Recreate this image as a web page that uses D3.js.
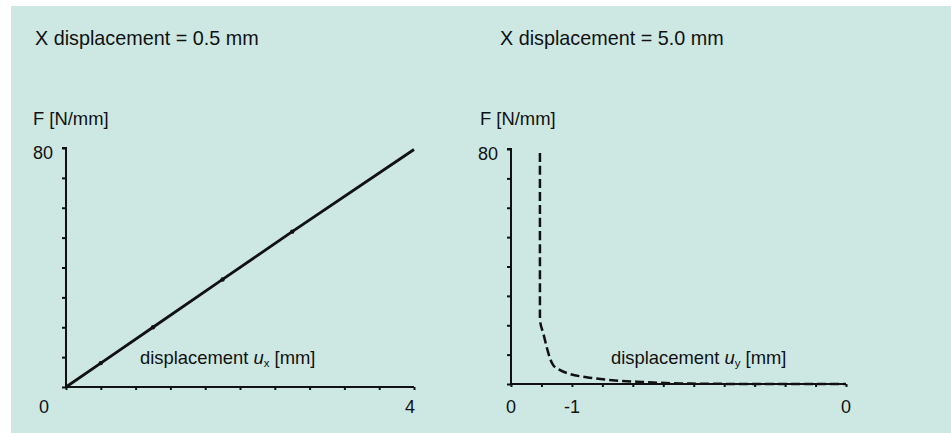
<!DOCTYPE html>
<html><head><meta charset="utf-8">
<script src="https://cdn.jsdelivr.net/npm/d3@7"></script>
<style>
html,body{margin:0;padding:0;background:#fff;}
svg{display:block;font-family:"Liberation Sans",Arial,Helvetica,sans-serif;}
</style></head>
<body>
<svg id="c" width="951" height="433"></svg>
<script>
// ---- data ----
const titles = ["X displacement = 0.5 mm", "X displacement = 5.0 mm"];
const yLabel = "F [N/mm]";
const yTicks = [0,10,20,30,40,50,60,70,80];
const leftXTicks = [0,0.4,0.8,1.2,1.6,2.0,2.4,2.8,3.2,3.6,4.0];
const leftXLabels = [[0,"0"],[4,"4"]];
const rightXTicks = [0,0.5,1,1.5,2,2.5,3,3.5,4,4.5,5,5.5];
const rightXLabels = [[0,"0"],[1,"-1"],[5.5,"0"]];
const leftU = [0, 0.4, 1.0, 1.8, 2.6, 4.0];
const leftF = [0, 8, 20, 36, 52, 79.5];
const rightU = [0.475,0.475,0.53,0.585,0.64,0.69,0.80,0.97,1.24,1.51,1.79,2.06,2.77,4.08,5.5];
const rightF = [78.6,21.8,17.3,12.7,8.75,6.5,4.8,3.4,2.3,1.6,1.1,0.8,0.2,0,0];

const svg = d3.select("#c");
svg.append("rect").attr("x",11).attr("y",6).attr("width",940).attr("height",427).attr("fill","#cde8e3");
const ink = "#111";

function panel(o){
  const x = d3.scaleLinear().domain(o.xd).range(o.xr);
  const y = d3.scaleLinear().domain([0,80]).range(o.yr);
  const g = svg.append("g");
  g.append("text").attr("x",o.tx).attr("y",45).attr("font-size",19.8).attr("fill",ink).text(o.title);
  g.append("text").attr("x",o.fx).attr("y",125).attr("font-size",18.4).attr("fill",ink).text(yLabel);
  const ya = g.append("g").attr("transform",`translate(${o.xr[0]},0)`)
    .call(d3.axisLeft(y).tickValues(yTicks).tickSize(4).tickFormat(""));
  ya.selectAll("path,line").attr("stroke",ink).attr("stroke-width",2);
  ya.select(".domain").attr("d",`M-4,${o.yr[1]}H0V${o.yr[0]}`);
  g.append("text").attr("x",o.xr[0]-13).attr("y",y(80)+11).attr("text-anchor","end")
    .attr("font-size",18).attr("fill",ink).text("80");
  const xa = g.append("g").attr("transform",`translate(0,${o.yr[0]})`)
    .call(d3.axisBottom(x).tickValues(o.xt).tickSize(3).tickFormat(""));
  xa.selectAll("path,line").attr("stroke",ink).attr("stroke-width",2);
  xa.select(".domain").attr("d",`M${o.xr[0]},0H${o.xr[1]}`);
  o.xl.forEach(([v,t],i)=>{
    g.append("text").attr("x",x(v)+(o.xoff?o.xoff[i]:0)).attr("y",413).attr("text-anchor","middle")
      .attr("font-size",18).attr("fill",ink).text(t);
  });
  const lab = g.append("text").attr("x",o.lx).attr("y",364).attr("font-size",18.4).attr("fill",ink);
  lab.append("tspan").text("displacement ");
  lab.append("tspan").attr("font-style","italic").text("u");
  lab.append("tspan").attr("font-size",11.5).attr("dy",3).text(o.sub);
  lab.append("tspan").attr("dy",-3).text(" [mm]");
  return {g,x,y};
}

const L = panel({xd:[0,4], xr:[66,414], yr:[387,148], title:titles[0], tx:35, fx:33,
  xt:leftXTicks, xl:leftXLabels, xoff:[-22,-4], lx:140, sub:"x"});
L.g.append("path").datum(leftU.map((u,i)=>[u,leftF[i]]))
  .attr("d",d3.line().x(d=>L.x(d[0])).y(d=>L.y(d[1])))
  .attr("fill","none").attr("stroke",ink).attr("stroke-width",2.8);
L.g.selectAll("circle.m").data(leftU.slice(1,-1).map((u,i)=>[u,leftF[i+1]])).enter().append("circle")
  .attr("cx",d=>L.x(d[0])).attr("cy",d=>L.y(d[1])).attr("r",2.2).attr("fill",ink);

const R = panel({xd:[0,5.5], xr:[511,846], yr:[384,149], title:titles[1], tx:500, fx:480,
  xt:rightXTicks, xl:rightXLabels, lx:611, sub:"y"});
R.g.append("path").datum(rightU.map((u,i)=>[u,rightF[i]]))
  .attr("d",d3.line().curve(d3.curveMonotoneX).x(d=>R.x(d[0])).y(d=>R.y(d[1])))
  .attr("fill","none").attr("stroke",ink).attr("stroke-width",2.5).attr("stroke-dasharray","9,4");
</script>
</body></html>
